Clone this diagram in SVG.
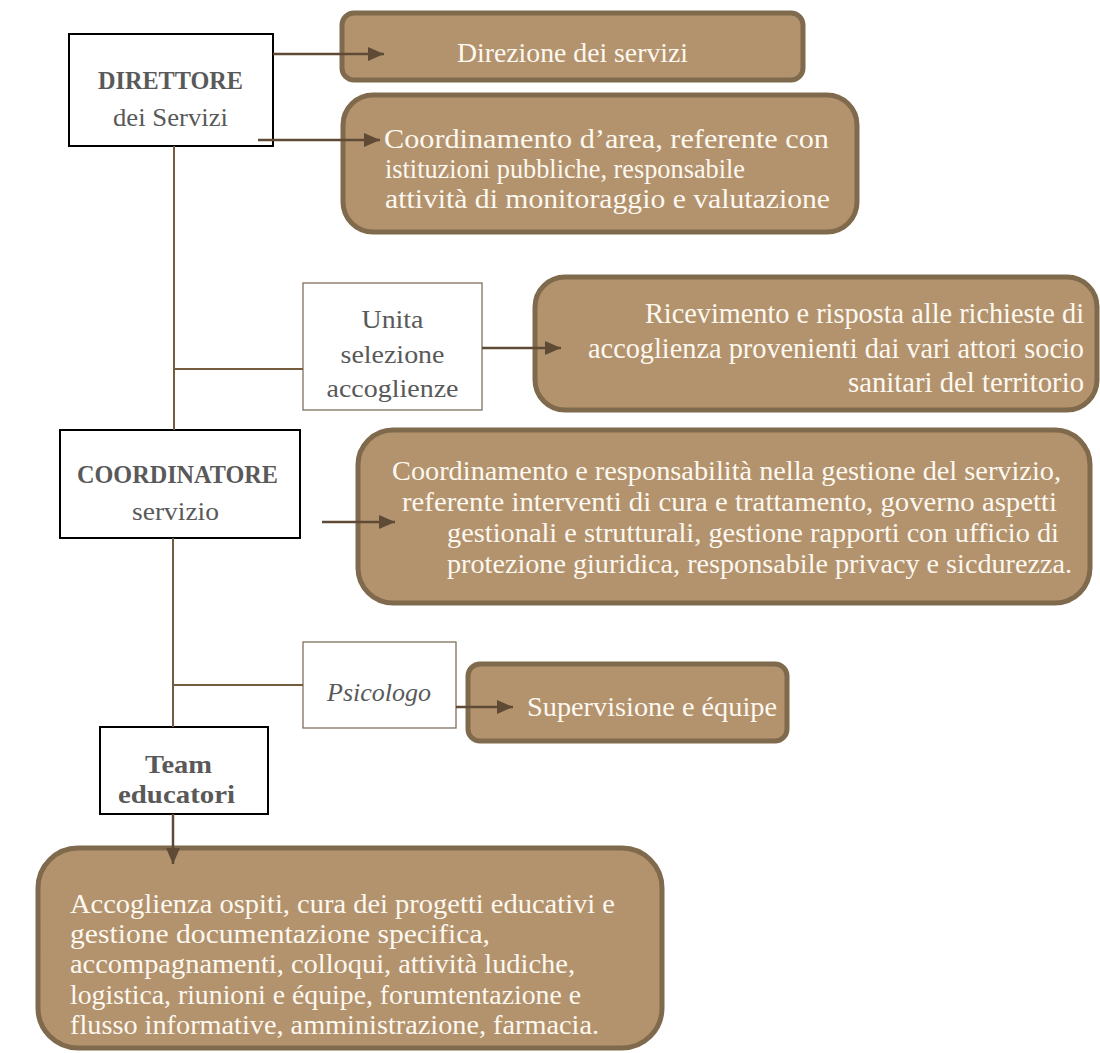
<svg xmlns="http://www.w3.org/2000/svg" width="1100" height="1053" viewBox="0 0 1100 1053">
<defs>
<style>
.wbox{fill:#ffffff;stroke:#000000;stroke-width:2}
.tbox{fill:#ffffff;stroke:#7f6f5f;stroke-width:1.3}
.bbox{fill:#b3936d;stroke:#806a4d;stroke-width:5}
.conn{stroke:#735c40;stroke-width:2;fill:none}
.arr{stroke:#5f4b35;stroke-width:2.5;fill:none;marker-end:url(#ah)}
.t{font-family:"Liberation Serif","DejaVu Serif",serif;font-size:26px;fill:#595959}
.tb{font-family:"Liberation Serif","DejaVu Serif",serif;font-size:26px;font-weight:bold;fill:#595959}
.w{font-family:"Liberation Serif","DejaVu Serif",serif;font-size:27px;fill:#fdf8f0}
.wc{font-family:"Liberation Serif","DejaVu Serif",serif;font-size:29px;fill:#fdf8f0}
</style>
<marker id="ah" markerWidth="16" markerHeight="14" refX="16" refY="7" orient="auto" markerUnits="userSpaceOnUse">
<path d="M0,0 L16,7 L0,14 z" fill="#5f4b35"/>
</marker>
</defs>

<g id="direttore">
<rect class="wbox" x="69" y="34" width="204" height="112"/>
<text class="tb" x="170.5" y="89" text-anchor="middle" font-size="25" textLength="145" lengthAdjust="spacingAndGlyphs">DIRETTORE</text>
<text class="t" x="170.5" y="126" text-anchor="middle" textLength="115" lengthAdjust="spacingAndGlyphs">dei Servizi</text>
</g>

<g id="direzione">
<rect class="bbox" x="342" y="13" width="461" height="67" rx="12"/>
<text class="w" x="572.5" y="62" text-anchor="middle" font-size="26" textLength="231" lengthAdjust="spacingAndGlyphs">Direzione dei servizi</text>
</g>

<g id="coord-area">
<rect class="bbox" x="343" y="95" width="514" height="137" rx="30"/>
<text class="w" x="384" y="148" textLength="445" lengthAdjust="spacingAndGlyphs">Coordinamento d’area, referente con</text>
<text class="w" x="385" y="178" textLength="360" lengthAdjust="spacingAndGlyphs">istituzioni pubbliche, responsabile</text>
<text class="w" x="385" y="208" textLength="445" lengthAdjust="spacingAndGlyphs">attività di monitoraggio e valutazione</text>
</g>

<g id="unita">
<rect class="tbox" x="303" y="283" width="179" height="127"/>
<text class="t" x="392.5" y="328" text-anchor="middle" font-size="29" textLength="62" lengthAdjust="spacingAndGlyphs">Unita</text>
<text class="t" x="392.5" y="363" text-anchor="middle" font-size="29" textLength="104" lengthAdjust="spacingAndGlyphs">selezione</text>
<text class="t" x="392.5" y="397" text-anchor="middle" font-size="29" textLength="132" lengthAdjust="spacingAndGlyphs">accoglienze</text>
</g>

<g id="ricevimento">
<rect class="bbox" x="535" y="277" width="562" height="133" rx="30"/>
<text class="wc" x="1084" y="323" text-anchor="end" textLength="439" lengthAdjust="spacingAndGlyphs">Ricevimento e risposta alle richieste di</text>
<text class="wc" x="1084" y="358" text-anchor="end" textLength="496" lengthAdjust="spacingAndGlyphs">accoglienza provenienti dai vari attori socio</text>
<text class="wc" x="1084" y="392" text-anchor="end" textLength="236" lengthAdjust="spacingAndGlyphs">sanitari del territorio</text>
</g>

<g id="coordinatore">
<rect class="wbox" x="60" y="430" width="240" height="108"/>
<text class="tb" x="177.5" y="483" text-anchor="middle" font-size="27" textLength="201" lengthAdjust="spacingAndGlyphs">COORDINATORE</text>
<text class="t" x="175.5" y="520" text-anchor="middle" font-size="28" textLength="87" lengthAdjust="spacingAndGlyphs">servizio</text>
</g>

<g id="coord-servizio">
<rect class="bbox" x="358" y="430" width="732" height="173" rx="35"/>
<text class="w" x="392" y="480" textLength="669" lengthAdjust="spacingAndGlyphs">Coordinamento e responsabilità nella gestione del servizio,</text>
<text class="w" x="402" y="511" textLength="655" lengthAdjust="spacingAndGlyphs">referente interventi di cura e trattamento, governo aspetti</text>
<text class="w" x="447" y="542" textLength="612" lengthAdjust="spacingAndGlyphs">gestionali e strutturali, gestione rapporti con ufficio di</text>
<text class="w" x="447" y="573" textLength="625" lengthAdjust="spacingAndGlyphs">protezione giuridica, responsabile privacy e sicdurezza.</text>
</g>

<g id="psicologo">
<rect class="tbox" x="303" y="642" width="153" height="86"/>
<text class="t" x="379" y="701" text-anchor="middle" font-style="italic" textLength="104" lengthAdjust="spacingAndGlyphs">Psicologo</text>
</g>

<g id="supervisione">
<rect class="bbox" x="468" y="664" width="319" height="77" rx="12"/>
<text class="w" x="527" y="716" textLength="250" lengthAdjust="spacingAndGlyphs">Supervisione e équipe</text>
</g>

<g id="team">
<rect class="wbox" x="100" y="727" width="168" height="87"/>
<text class="tb" x="178.5" y="773" text-anchor="middle" font-size="27" textLength="67" lengthAdjust="spacingAndGlyphs">Team</text>
<text class="tb" x="176.5" y="803" text-anchor="middle" font-size="27" textLength="117" lengthAdjust="spacingAndGlyphs">educatori</text>
</g>

<g id="educatori-compiti">
<rect class="bbox" x="38" y="848" width="624" height="200" rx="40"/>
<text class="w" x="70" y="913" textLength="545" lengthAdjust="spacingAndGlyphs">Accoglienza ospiti, cura dei progetti educativi e</text>
<text class="w" x="70" y="943" textLength="420" lengthAdjust="spacingAndGlyphs">gestione documentazione specifica,</text>
<text class="w" x="70" y="973" textLength="505" lengthAdjust="spacingAndGlyphs">accompagnamenti, colloqui, attività ludiche,</text>
<text class="w" x="70" y="1004" textLength="511" lengthAdjust="spacingAndGlyphs">logistica, riunioni e équipe, forumtentazione e</text>
<text class="w" x="70" y="1034" textLength="529" lengthAdjust="spacingAndGlyphs">flusso informative, amministrazione, farmacia.</text>
</g>

<g id="connectors">
<line class="conn" x1="174" y1="146" x2="174" y2="430"/>
<line class="conn" x1="174" y1="369" x2="303" y2="369"/>
<line class="conn" x1="173" y1="538" x2="173" y2="727"/>
<line class="conn" x1="173" y1="685" x2="303" y2="685"/>
<line class="arr" x1="273" y1="54" x2="384" y2="54"/>
<line class="arr" x1="258" y1="140" x2="380" y2="140"/>
<line class="arr" x1="482" y1="348" x2="561" y2="348"/>
<line class="arr" x1="322" y1="522" x2="395" y2="522"/>
<line class="arr" x1="456" y1="707" x2="513" y2="707"/>
<line class="arr" x1="173" y1="814" x2="173" y2="864"/>
</g>
</svg>
